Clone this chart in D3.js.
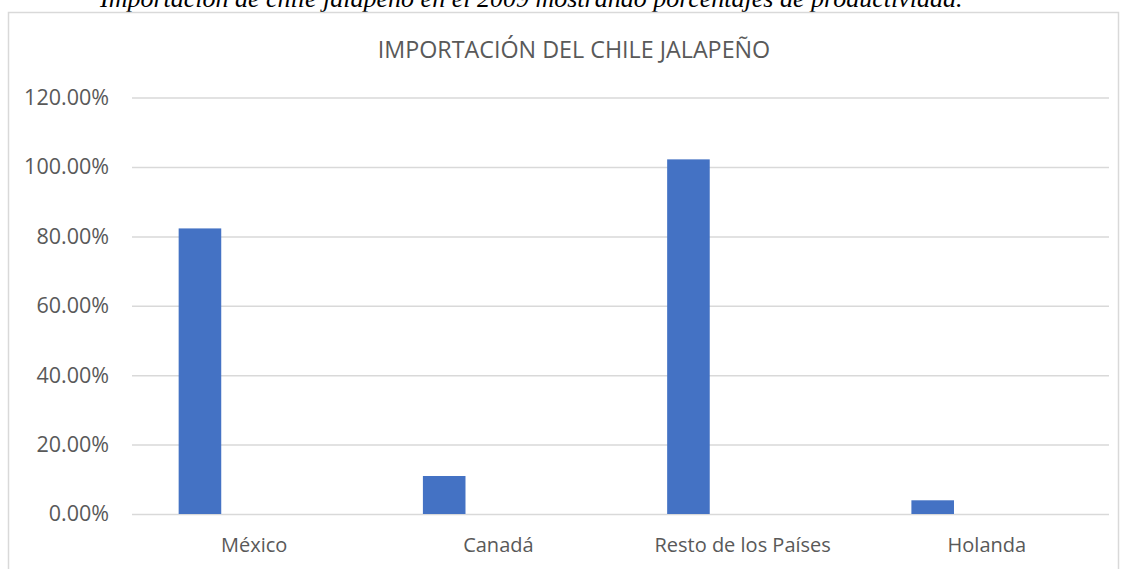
<!DOCTYPE html>
<html>
<head>
<meta charset="utf-8">
<script src="https://cdn.jsdelivr.net/npm/d3@7"></script>
<style>
  body { margin: 0; background: #fff; }
  svg { display: block; }
  .tick text { font-family: "Open Sans", sans-serif; fill: #595959; }
</style>
</head>
<body>
<div id="grafico"></div>
<script>
// datos
var paises = ["México", "Canadá", "Resto de los Países", "Holanda"];
var series = ["Importación", "Serie 2"];
var importacion = [0.823, 0.1095, 1.022, 0.0395];
var serie2 = [0, 0, 0, 0];
var ticksY = [0, 0.2, 0.4, 0.6, 0.8, 1.0, 1.2];

var titulo = "IMPORTACIÓN DEL CHILE JALAPEÑO";
var leyenda = "Importación de chile jalapeño en el 2009 mostrando porcentajes de productividad.";

var W = 1126, H = 569;
var margin = {top: 97.6, right: 17, bottom: 55, left: 132},
    width = 1109 - margin.left,
    height = 514 - margin.top;

var svg = d3.select("#grafico")
  .append("svg")
    .attr("width", W)
    .attr("height", H);

// texto de arriba (cortado como en el original)
svg.append("text")
    .attr("x", 100)
    .attr("y", 7)
    .style("font-family", "'Liberation Serif', serif")
    .style("font-style", "italic")
    .style("font-size", "26px")
    .style("fill", "#000")
    .text(leyenda);

// marco del grafico
svg.append("rect")
    .attr("x", 8.5)
    .attr("y", 12.5)
    .attr("width", 1110)
    .attr("height", 600)
    .style("fill", "none")
    .style("stroke", "#d9d9d9")
    .style("stroke-width", 1.5);

svg.append("text")
    .attr("x", 574)
    .attr("y", 58)
    .attr("text-anchor", "middle")
    .style("font-family", "'Open Sans', sans-serif")
    .style("font-size", "23.3px")
    .style("fill", "#595959")
    .text(titulo);

var g = svg.append("g")
    .attr("transform", "translate(" + margin.left + "," + margin.top + ")");

var y = d3.scaleLinear()
    .domain([0, 1.2])
    .range([height, 0]);

var x0 = d3.scaleBand()
    .domain(paises)
    .range([0, width])
    .padding(0);

var bw = x0.bandwidth();
var x1 = d3.scaleBand()
    .domain(series)
    .range([bw * 0.191, bw * 0.809])
    .paddingInner(0.607);

// eje Y con lineas de cuadricula
var ejeY = g.append("g")
    .call(d3.axisLeft(y)
      .tickValues(ticksY)
      .tickFormat(d3.format(".2%"))
      .tickSize(-width)
      .tickPadding(23));
ejeY.select(".domain").remove();
ejeY.selectAll(".tick line")
    .style("stroke", "#d9d9d9")
    .style("stroke-width", 1.5);
ejeY.selectAll(".tick text")
    .style("font-size", "21.5px");

// eje X
var ejeX = g.append("g")
    .attr("transform", "translate(0," + height + ")")
    .call(d3.axisBottom(x0).tickSize(0).tickPadding(24));
ejeX.select(".domain").remove();
ejeX.selectAll(".tick text")
    .style("font-size", "20px");

var datos = paises.map(function(p, i) {
  return {pais: p, valores: [
    {serie: series[0], v: importacion[i]},
    {serie: series[1], v: serie2[i]}
  ]};
});

g.selectAll(".grupo")
  .data(datos)
  .enter()
  .append("g")
    .attr("class", "grupo")
    .attr("transform", function(d) { return "translate(" + x0(d.pais) + ",0)"; })
  .selectAll("rect")
  .data(function(d) { return d.valores; })
  .enter()
  .append("rect")
    .attr("x", function(d) { return x1(d.serie); })
    .attr("width", x1.bandwidth())
    .attr("y", function(d) { return y(d.v); })
    .attr("height", function(d) { return height - y(d.v); })
    .style("fill", "#4472c4");
</script>
</body>
</html>
